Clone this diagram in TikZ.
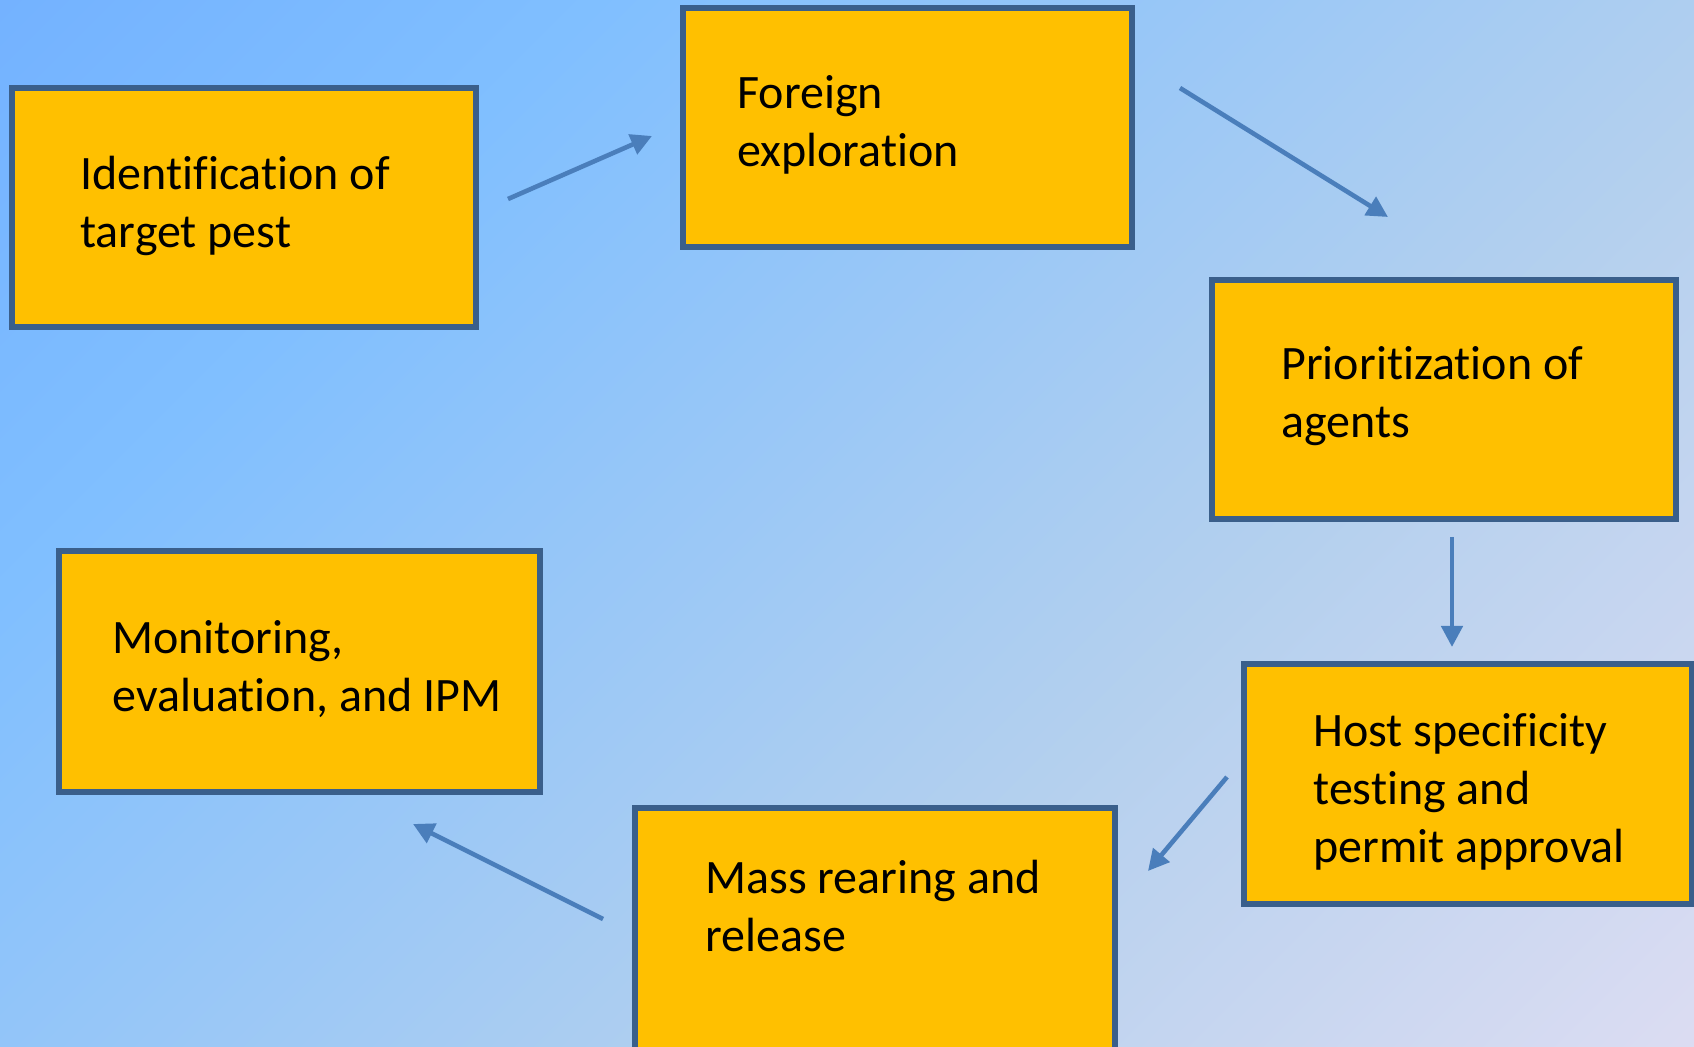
\documentclass[tikz,border=0pt]{standalone}
\usepackage{fontspec}
\setmainfont{Carlito}[Ligatures=NoCommon]
\usepackage{xcolor}
\usetikzlibrary{arrows.meta}

\definecolor{BoxFill}{HTML}{FFC000}
\definecolor{BoxLine}{HTML}{3A5F8B}
\definecolor{ArrowBlue}{HTML}{4A7EBB}
\definecolor{BgA}{HTML}{68A6FF}
\definecolor{BgB}{HTML}{80BFFF}
\definecolor{BgC}{HTML}{B4D0EE}
\definecolor{BgD}{HTML}{F4E4F5}
\pgfdeclarehorizontalshading{bgshade}{100bp}{color(0bp)=(BgA); color(30bp)=(BgB); color(62bp)=(BgC); color(100bp)=(BgD)}

\begin{document}
\begin{tikzpicture}[x=0.5pt, y=-0.5pt,
  box/.style={rectangle, draw=BoxLine, fill=BoxFill, line width=2.6pt, inner sep=0pt},
  txt/.style={anchor=base west, align=left, inner sep=0pt, font=\fontsize{24}{29}\selectfont},
  flow/.style={draw=ArrowBlue, fill=ArrowBlue, line width=2.3pt, -{Triangle[length=10.5pt,width=10.5pt]}}]

  \shade[shading=bgshade, shading angle=-45] (0,0) rectangle (1694,1047);
  \useasboundingbox (0,0) rectangle (1694,1047);

  % boxes
  \node[box, minimum width=232pt, minimum height=119.5pt] (Ident) at (244,207.5) {};
  \node[box, minimum width=224.5pt, minimum height=119.5pt] (Foreign) at (907.5,127.5) {};
  \node[box, minimum width=232pt, minimum height=119.5pt] (Prio) at (1444,399.5) {};
  \node[box, minimum width=224pt, minimum height=120pt] (Host) at (1468,784) {};
  \node[box, minimum width=240pt, minimum height=131pt] (Mass) at (875,939) {};
  \node[box, minimum width=240.5pt, minimum height=120.5pt] (Monitor) at (299.5,671.5) {};

  % texts (base = last line)
  \node[txt] (IdentT) at (80,248) {Identification of\\target pest};
  \node[txt] (ForeignT) at (737,167) {Foreign\\exploration};
  \node[txt] (PrioT) at (1281,438) {Prioritization of\\agents};
  \node[txt] (HostT) at (1313,863) {Host specificity\\testing and\\permit approval};
  \node[txt] (MassT) at (705,952) {Mass rearing and\\release};
  \node[txt] (MonitorT) at (112,712) {Monitoring,\\evaluation, and IPM};

  % arrow ends
  \coordinate (IdentOut) at (508,199);
  \coordinate (ForeignIn) at (652,136);
  \coordinate (ForeignOut) at (1180,88);
  \coordinate (PrioIn) at (1388,217);
  \coordinate (PrioOut) at (1452,537);
  \coordinate (HostIn) at (1452,647);
  \coordinate (HostOut) at (1227,777);
  \coordinate (MassIn) at (1148,871);
  \coordinate (MassOut) at (603,919);
  \coordinate (MonitorIn) at (413,824);

  \draw[flow] (IdentOut) -- (ForeignIn);
  \draw[flow] (ForeignOut) -- (PrioIn);
  \draw[flow] (PrioOut) -- (HostIn);
  \draw[flow] (HostOut) -- (MassIn);
  \draw[flow] (MassOut) -- (MonitorIn);

\end{tikzpicture}
\end{document}
